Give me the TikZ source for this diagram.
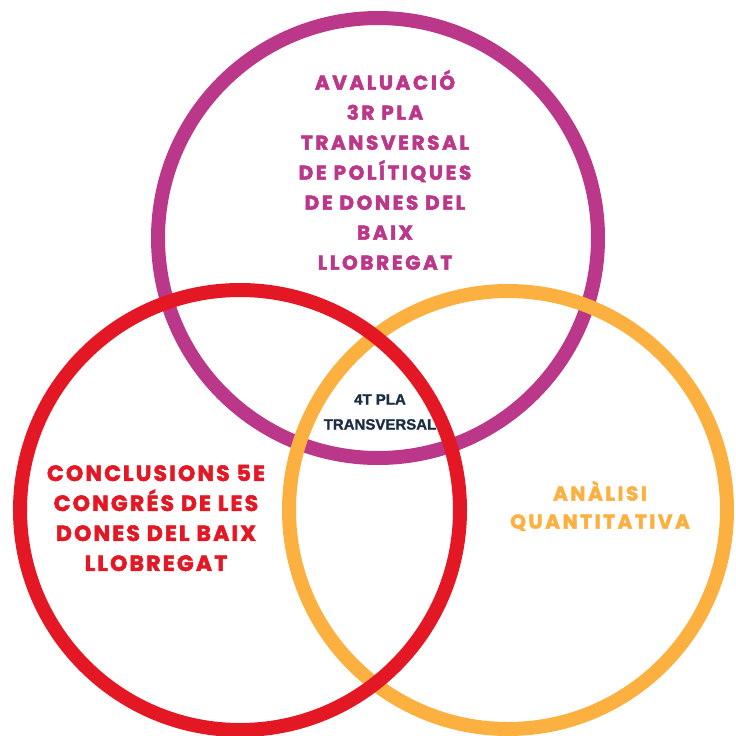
\documentclass[tikz,border=0pt]{standalone}
\usepackage{fontspec}
\setmainfont{Poppins}[BoldFont={* Bold}]
\newfontfamily\widefont{Poppins Bold}[LetterSpace=13, FakeBold=2.5]
\newfontfamily\tightfont{Poppins Bold}[LetterSpace=10, FakeBold=2.5]
\newfontfamily\midfont{Liberation Sans}[FakeBold=1.5]
\usetikzlibrary{positioning}

\definecolor{vpurple}{HTML}{BA3789}
\definecolor{vred}{HTML}{E41824}
\definecolor{vorange}{HTML}{FBB040}
\definecolor{vnavy}{HTML}{1B2E45}

\begin{document}
\begin{tikzpicture}[x=1pt, y=-1pt, ring/.style={line width=14pt},
    label/.style={align=center, inner sep=0pt, font=\widefont\fontsize{20}{30}\selectfont}]
        \useasboundingbox (0,0) rectangle (736,736);
        \clip (0,0) rectangle (736,736);

        % Circles
        \draw[ring, vpurple] (378,238) circle (220);
        \draw[ring, vorange] (508,510) circle (219);
        \draw[ring, vred] (240,510) circle (220);

        % Labels
        \node[label, text=vpurple] (Avaluacio) at (385,170) {AVALUACIÓ\\3R PLA\\TRANSVERSAL\\DE POLÍTIQUES\\DE DONES DEL\\BAIX\\LLOBREGAT};
        \node[label, text=vred, font=\tightfont\fontsize{22}{30}\selectfont] (Congres) at (156,518) {CONCLUSIONS 5E\\CONGRÉS DE LES\\DONES DEL BAIX\\LLOBREGAT};
        \node[label, text=vorange, font=\widefont\fontsize{20}{28}\selectfont] (Analisi) at (600,506) {ANÀLISI\\QUANTITATIVA};
        \node[label, text=vnavy, font=\midfont\bfseries\fontsize{15}{25}\selectfont] (Pla) at (380,412) {4T PLA\\TRANSVERSAL};
    \end{tikzpicture}
\end{document}
